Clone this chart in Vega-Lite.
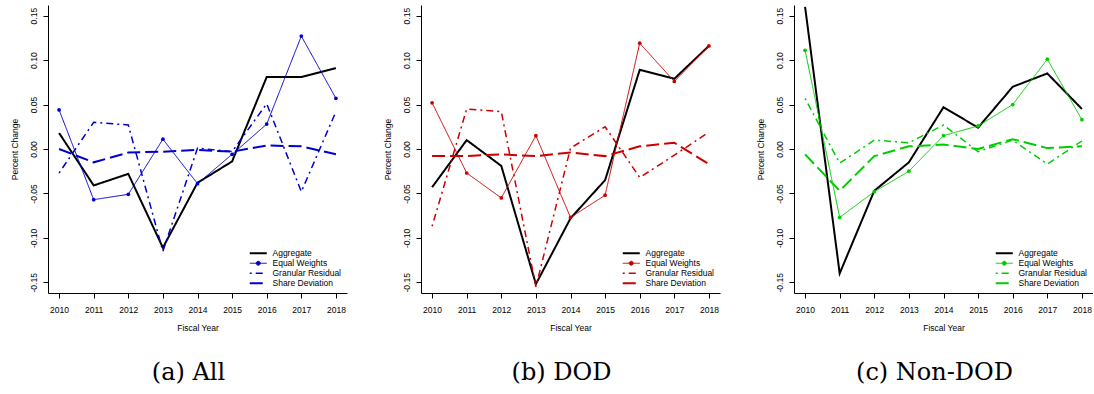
{
  "$schema": "https://vega.github.io/schema/vega-lite/v6.json",
  "padding": {"left": 10, "top": 5, "right": 0, "bottom": 0},
  "background": "white",
  "bounds": "flush",
  "spacing": 74,
  "datasets": {
    "d": [
      {"p":"All","s":"Aggregate","y":2010,"v":0.018},{"p":"All","s":"Aggregate","y":2011,"v":-0.041},{"p":"All","s":"Aggregate","y":2012,"v":-0.028},{"p":"All","s":"Aggregate","y":2013,"v":-0.111},{"p":"All","s":"Aggregate","y":2014,"v":-0.038},{"p":"All","s":"Aggregate","y":2015,"v":-0.014},{"p":"All","s":"Aggregate","y":2016,"v":0.081},{"p":"All","s":"Aggregate","y":2017,"v":0.081},{"p":"All","s":"Aggregate","y":2018,"v":0.091},
      {"p":"All","s":"Equal Weights","y":2010,"v":0.044},{"p":"All","s":"Equal Weights","y":2011,"v":-0.057},{"p":"All","s":"Equal Weights","y":2012,"v":-0.051},{"p":"All","s":"Equal Weights","y":2013,"v":0.011},{"p":"All","s":"Equal Weights","y":2014,"v":-0.039},{"p":"All","s":"Equal Weights","y":2015,"v":-0.006},{"p":"All","s":"Equal Weights","y":2016,"v":0.028},{"p":"All","s":"Equal Weights","y":2017,"v":0.127},{"p":"All","s":"Equal Weights","y":2018,"v":0.057},
      {"p":"All","s":"Granular Residual","y":2010,"v":-0.027},{"p":"All","s":"Granular Residual","y":2011,"v":0.030},{"p":"All","s":"Granular Residual","y":2012,"v":0.027},{"p":"All","s":"Granular Residual","y":2013,"v":-0.115},{"p":"All","s":"Granular Residual","y":2014,"v":0.001},{"p":"All","s":"Granular Residual","y":2015,"v":-0.003},{"p":"All","s":"Granular Residual","y":2016,"v":0.051},{"p":"All","s":"Granular Residual","y":2017,"v":-0.048},{"p":"All","s":"Granular Residual","y":2018,"v":0.042},
      {"p":"All","s":"Share Deviation","y":2010,"v":0.000},{"p":"All","s":"Share Deviation","y":2011,"v":-0.015},{"p":"All","s":"Share Deviation","y":2012,"v":-0.004},{"p":"All","s":"Share Deviation","y":2013,"v":-0.003},{"p":"All","s":"Share Deviation","y":2014,"v":-0.001},{"p":"All","s":"Share Deviation","y":2015,"v":-0.003},{"p":"All","s":"Share Deviation","y":2016,"v":0.004},{"p":"All","s":"Share Deviation","y":2017,"v":0.003},{"p":"All","s":"Share Deviation","y":2018,"v":-0.006},
      {"p":"DOD","s":"Aggregate","y":2010,"v":-0.043},{"p":"DOD","s":"Aggregate","y":2011,"v":0.010},{"p":"DOD","s":"Aggregate","y":2012,"v":-0.019},{"p":"DOD","s":"Aggregate","y":2013,"v":-0.152},{"p":"DOD","s":"Aggregate","y":2014,"v":-0.078},{"p":"DOD","s":"Aggregate","y":2015,"v":-0.035},{"p":"DOD","s":"Aggregate","y":2016,"v":0.089},{"p":"DOD","s":"Aggregate","y":2017,"v":0.079},{"p":"DOD","s":"Aggregate","y":2018,"v":0.116},
      {"p":"DOD","s":"Equal Weights","y":2010,"v":0.052},{"p":"DOD","s":"Equal Weights","y":2011,"v":-0.027},{"p":"DOD","s":"Equal Weights","y":2012,"v":-0.055},{"p":"DOD","s":"Equal Weights","y":2013,"v":0.015},{"p":"DOD","s":"Equal Weights","y":2014,"v":-0.077},{"p":"DOD","s":"Equal Weights","y":2015,"v":-0.052},{"p":"DOD","s":"Equal Weights","y":2016,"v":0.119},{"p":"DOD","s":"Equal Weights","y":2017,"v":0.076},{"p":"DOD","s":"Equal Weights","y":2018,"v":0.116},
      {"p":"DOD","s":"Granular Residual","y":2010,"v":-0.087},{"p":"DOD","s":"Granular Residual","y":2011,"v":0.045},{"p":"DOD","s":"Granular Residual","y":2012,"v":0.042},{"p":"DOD","s":"Granular Residual","y":2013,"v":-0.155},{"p":"DOD","s":"Granular Residual","y":2014,"v":0.001},{"p":"DOD","s":"Granular Residual","y":2015,"v":0.025},{"p":"DOD","s":"Granular Residual","y":2016,"v":-0.032},{"p":"DOD","s":"Granular Residual","y":2017,"v":-0.007},{"p":"DOD","s":"Granular Residual","y":2018,"v":0.019},
      {"p":"DOD","s":"Share Deviation","y":2010,"v":-0.008},{"p":"DOD","s":"Share Deviation","y":2011,"v":-0.008},{"p":"DOD","s":"Share Deviation","y":2012,"v":-0.006},{"p":"DOD","s":"Share Deviation","y":2013,"v":-0.008},{"p":"DOD","s":"Share Deviation","y":2014,"v":-0.004},{"p":"DOD","s":"Share Deviation","y":2015,"v":-0.008},{"p":"DOD","s":"Share Deviation","y":2016,"v":0.003},{"p":"DOD","s":"Share Deviation","y":2017,"v":0.007},{"p":"DOD","s":"Share Deviation","y":2018,"v":-0.017},
      {"p":"Non","s":"Aggregate","y":2010,"v":0.160},{"p":"Non","s":"Aggregate","y":2011,"v":-0.140},{"p":"Non","s":"Aggregate","y":2012,"v":-0.047},{"p":"Non","s":"Aggregate","y":2013,"v":-0.015},{"p":"Non","s":"Aggregate","y":2014,"v":0.047},{"p":"Non","s":"Aggregate","y":2015,"v":0.024},{"p":"Non","s":"Aggregate","y":2016,"v":0.070},{"p":"Non","s":"Aggregate","y":2017,"v":0.085},{"p":"Non","s":"Aggregate","y":2018,"v":0.045},
      {"p":"Non","s":"Equal Weights","y":2010,"v":0.111},{"p":"Non","s":"Equal Weights","y":2011,"v":-0.077},{"p":"Non","s":"Equal Weights","y":2012,"v":-0.048},{"p":"Non","s":"Equal Weights","y":2013,"v":-0.025},{"p":"Non","s":"Equal Weights","y":2014,"v":0.015},{"p":"Non","s":"Equal Weights","y":2015,"v":0.026},{"p":"Non","s":"Equal Weights","y":2016,"v":0.050},{"p":"Non","s":"Equal Weights","y":2017,"v":0.101},{"p":"Non","s":"Equal Weights","y":2018,"v":0.033},
      {"p":"Non","s":"Granular Residual","y":2010,"v":0.057},{"p":"Non","s":"Granular Residual","y":2011,"v":-0.016},{"p":"Non","s":"Granular Residual","y":2012,"v":0.010},{"p":"Non","s":"Granular Residual","y":2013,"v":0.007},{"p":"Non","s":"Granular Residual","y":2014,"v":0.027},{"p":"Non","s":"Granular Residual","y":2015,"v":-0.003},{"p":"Non","s":"Granular Residual","y":2016,"v":0.010},{"p":"Non","s":"Granular Residual","y":2017,"v":-0.017},{"p":"Non","s":"Granular Residual","y":2018,"v":0.009},
      {"p":"Non","s":"Share Deviation","y":2010,"v":-0.006},{"p":"Non","s":"Share Deviation","y":2011,"v":-0.047},{"p":"Non","s":"Share Deviation","y":2012,"v":-0.008},{"p":"Non","s":"Share Deviation","y":2013,"v":0.003},{"p":"Non","s":"Share Deviation","y":2014,"v":0.005},{"p":"Non","s":"Share Deviation","y":2015,"v":0.000},{"p":"Non","s":"Share Deviation","y":2016,"v":0.011},{"p":"Non","s":"Share Deviation","y":2017,"v":0.001},{"p":"Non","s":"Share Deviation","y":2018,"v":0.003}
    ]
  },
  "data": {"name": "d"},
  "resolve": {"scale": {"color": "independent"}, "legend": {"color": "independent"}},
  "hconcat": [
    {
      "width": 299, "height": 288,
      "title": {"text": "(a) All", "orient": "bottom", "frame": "group", "anchor": "middle", "dx": -9, "offset": 29, "baseline": "top", "font": "DejaVu Serif", "fontSize": 24, "fontWeight": "normal", "color": "black"},
      "transform": [{"filter": "datum.p === 'All'"}],
      "encoding": {
        "x": {"field": "y", "type": "quantitative", "scale": {"domain": [2009.68, 2018.32], "nice": false, "zero": false}, "axis": {"values": [2010,2011,2012,2013,2014,2015,2016,2017,2018], "format": "d", "title": "Fiscal Year", "labelPadding": 7, "titlePadding": 10, "labelFlush": false, "labelOverlap": false}},
        "y": {"field": "v", "type": "quantitative", "scale": {"domain": [-0.162, 0.162], "nice": false, "zero": false}, "axis": {"values": [-0.15,-0.1,-0.05,0,0.05,0.1,0.15], "labelExpr": "replace(format(datum.value, '.2f'), '\u2212', '-')", "title": "Percent Change", "labelAngle": -90, "labelAlign": "center", "labelBaseline": "alphabetic", "labelPadding": 6.7, "titlePadding": 10, "labelOverlap": false, "labelFlush": false}}
      },
      "layer": [
        {
          "mark": {"type": "line", "clip": true},
          "encoding": {
            "color": {"field": "s", "type": "nominal", "scale": {"domain": ["Aggregate","Equal Weights","Granular Residual","Share Deviation"], "range": ["#000000","#0000CD","#0000CD","#0000CD"]},
              "legend": {"title": null, "orient": "bottom-right", "offset": 5, "padding": 0, "symbolType": "M-2.43,0H2.43", "symbolSize": 49, "labelOffset": 10, "rowPadding": 1, "labelFont": "Liberation Sans", "labelFontSize": 8.5, "labelColor": "black",
                "encode": {"symbols": {"update": {
                  "shape": {"signal": "datum.value === 'Equal Weights' ? 'M-2.43,0H2.43M0.57,0A0.57,0.57,0,1,1,-0.57,0A0.57,0.57,0,1,1,0.57,0' : 'M-2.43,0H2.43'"},
                  "fill": {"signal": "datum.value === 'Equal Weights' ? '#0000CD' : 'transparent'"},
                  "strokeDash": {"signal": "datum.value === 'Granular Residual' ? [2,4,7,4] : datum.value === 'Share Deviation' ? [13,5] : [1,0]"},
                  "strokeWidth": {"signal": "datum.value === 'Equal Weights' ? 1 : datum.value === 'Granular Residual' ? 1.5 : 2"},
                  "opacity": {"value": 1}
                }}}}},
            "strokeDash": {"field": "s", "type": "nominal", "scale": {"type": "ordinal", "domain": ["Aggregate","Equal Weights","Granular Residual","Share Deviation"], "range": [[1,0],[1,0],[2,4,7,4],[13,5]]}, "legend": null},
            "strokeWidth": {"field": "s", "type": "nominal", "scale": {"type": "ordinal", "domain": ["Aggregate","Equal Weights","Granular Residual","Share Deviation"], "range": [2,1,1.5,2]}, "legend": null}
          }
        },
        {
          "transform": [{"filter": "datum.s === 'Equal Weights'"}],
          "mark": {"type": "point", "filled": true, "size": 14, "opacity": 1, "color": "#0000CD"}
        }
      ]
    },
    {
      "width": 299, "height": 288,
      "title": {"text": "(b) DOD", "orient": "bottom", "frame": "group", "anchor": "middle", "dx": -9, "offset": 29, "baseline": "top", "font": "DejaVu Serif", "fontSize": 24, "fontWeight": "normal", "color": "black"},
      "transform": [{"filter": "datum.p === 'DOD'"}],
      "encoding": {
        "x": {"field": "y", "type": "quantitative", "scale": {"domain": [2009.68, 2018.32], "nice": false, "zero": false}, "axis": {"values": [2010,2011,2012,2013,2014,2015,2016,2017,2018], "format": "d", "title": "Fiscal Year", "labelPadding": 7, "titlePadding": 10, "labelFlush": false, "labelOverlap": false}},
        "y": {"field": "v", "type": "quantitative", "scale": {"domain": [-0.162, 0.162], "nice": false, "zero": false}, "axis": {"values": [-0.15,-0.1,-0.05,0,0.05,0.1,0.15], "labelExpr": "replace(format(datum.value, '.2f'), '\u2212', '-')", "title": "Percent Change", "labelAngle": -90, "labelAlign": "center", "labelBaseline": "alphabetic", "labelPadding": 6.7, "titlePadding": 10, "labelOverlap": false, "labelFlush": false}}
      },
      "layer": [
        {
          "mark": {"type": "line", "clip": true},
          "encoding": {
            "color": {"field": "s", "type": "nominal", "scale": {"domain": ["Aggregate","Equal Weights","Granular Residual","Share Deviation"], "range": ["#000000","#CD0000","#CD0000","#CD0000"]},
              "legend": {"title": null, "orient": "bottom-right", "offset": 5, "padding": 0, "symbolType": "M-2.43,0H2.43", "symbolSize": 49, "labelOffset": 10, "rowPadding": 1, "labelFont": "Liberation Sans", "labelFontSize": 8.5, "labelColor": "black",
                "encode": {"symbols": {"update": {
                  "shape": {"signal": "datum.value === 'Equal Weights' ? 'M-2.43,0H2.43M0.57,0A0.57,0.57,0,1,1,-0.57,0A0.57,0.57,0,1,1,0.57,0' : 'M-2.43,0H2.43'"},
                  "fill": {"signal": "datum.value === 'Equal Weights' ? '#CD0000' : 'transparent'"},
                  "strokeDash": {"signal": "datum.value === 'Granular Residual' ? [2,4,7,4] : datum.value === 'Share Deviation' ? [13,5] : [1,0]"},
                  "strokeWidth": {"signal": "datum.value === 'Equal Weights' ? 1 : datum.value === 'Granular Residual' ? 1.5 : 2"},
                  "opacity": {"value": 1}
                }}}}},
            "strokeDash": {"field": "s", "type": "nominal", "scale": {"type": "ordinal", "domain": ["Aggregate","Equal Weights","Granular Residual","Share Deviation"], "range": [[1,0],[1,0],[2,4,7,4],[13,5]]}, "legend": null},
            "strokeWidth": {"field": "s", "type": "nominal", "scale": {"type": "ordinal", "domain": ["Aggregate","Equal Weights","Granular Residual","Share Deviation"], "range": [2,1,1.5,2]}, "legend": null}
          }
        },
        {
          "transform": [{"filter": "datum.s === 'Equal Weights'"}],
          "mark": {"type": "point", "filled": true, "size": 14, "opacity": 1, "color": "#CD0000"}
        }
      ]
    },
    {
      "width": 299, "height": 288,
      "title": {"text": "(c) Non-DOD", "orient": "bottom", "frame": "group", "anchor": "middle", "dx": -9, "offset": 29, "baseline": "top", "font": "DejaVu Serif", "fontSize": 24, "fontWeight": "normal", "color": "black"},
      "transform": [{"filter": "datum.p === 'Non'"}],
      "encoding": {
        "x": {"field": "y", "type": "quantitative", "scale": {"domain": [2009.68, 2018.32], "nice": false, "zero": false}, "axis": {"values": [2010,2011,2012,2013,2014,2015,2016,2017,2018], "format": "d", "title": "Fiscal Year", "labelPadding": 7, "titlePadding": 10, "labelFlush": false, "labelOverlap": false}},
        "y": {"field": "v", "type": "quantitative", "scale": {"domain": [-0.162, 0.162], "nice": false, "zero": false}, "axis": {"values": [-0.15,-0.1,-0.05,0,0.05,0.1,0.15], "labelExpr": "replace(format(datum.value, '.2f'), '\u2212', '-')", "title": "Percent Change", "labelAngle": -90, "labelAlign": "center", "labelBaseline": "alphabetic", "labelPadding": 6.7, "titlePadding": 10, "labelOverlap": false, "labelFlush": false}}
      },
      "layer": [
        {
          "mark": {"type": "line", "clip": true},
          "encoding": {
            "color": {"field": "s", "type": "nominal", "scale": {"domain": ["Aggregate","Equal Weights","Granular Residual","Share Deviation"], "range": ["#000000","#00CD00","#00CD00","#00CD00"]},
              "legend": {"title": null, "orient": "bottom-right", "offset": 5, "padding": 0, "symbolType": "M-2.43,0H2.43", "symbolSize": 49, "labelOffset": 10, "rowPadding": 1, "labelFont": "Liberation Sans", "labelFontSize": 8.5, "labelColor": "black",
                "encode": {"symbols": {"update": {
                  "shape": {"signal": "datum.value === 'Equal Weights' ? 'M-2.43,0H2.43M0.57,0A0.57,0.57,0,1,1,-0.57,0A0.57,0.57,0,1,1,0.57,0' : 'M-2.43,0H2.43'"},
                  "fill": {"signal": "datum.value === 'Equal Weights' ? '#00CD00' : 'transparent'"},
                  "strokeDash": {"signal": "datum.value === 'Granular Residual' ? [2,4,7,4] : datum.value === 'Share Deviation' ? [13,5] : [1,0]"},
                  "strokeWidth": {"signal": "datum.value === 'Equal Weights' ? 1 : datum.value === 'Granular Residual' ? 1.5 : 2"},
                  "opacity": {"value": 1}
                }}}}},
            "strokeDash": {"field": "s", "type": "nominal", "scale": {"type": "ordinal", "domain": ["Aggregate","Equal Weights","Granular Residual","Share Deviation"], "range": [[1,0],[1,0],[2,4,7,4],[13,5]]}, "legend": null},
            "strokeWidth": {"field": "s", "type": "nominal", "scale": {"type": "ordinal", "domain": ["Aggregate","Equal Weights","Granular Residual","Share Deviation"], "range": [2,1,1.5,2]}, "legend": null}
          }
        },
        {
          "transform": [{"filter": "datum.s === 'Equal Weights'"}],
          "mark": {"type": "point", "filled": true, "size": 14, "opacity": 1, "color": "#00CD00"}
        }
      ]
    }
  ],
  "config": {
    "font": "Liberation Sans",
    "view": {"stroke": null},
    "axis": {"grid": false, "domainColor": "black", "domainWidth": 1, "tickColor": "black", "tickWidth": 1, "tickSize": 5, "labelColor": "black", "labelFont": "Liberation Sans", "labelFontSize": 8.5, "titleFont": "Liberation Sans", "titleFontSize": 8.5, "titleFontWeight": "normal", "titleColor": "black"}
  }
}
